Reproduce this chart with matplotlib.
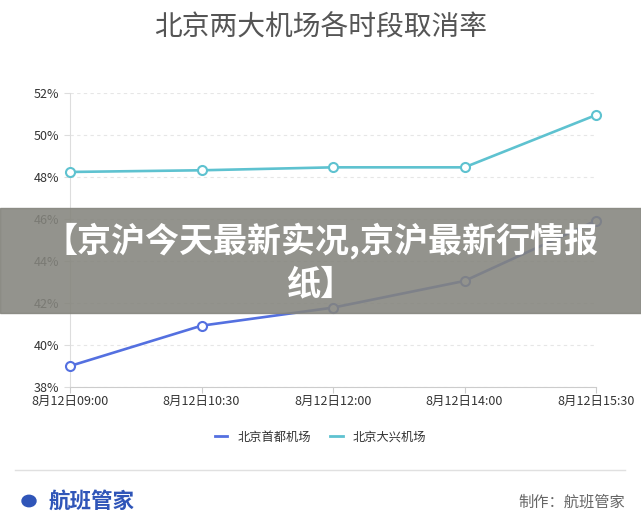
import matplotlib
matplotlib.use("Agg")
import matplotlib.pyplot as plt
from matplotlib.patches import Circle, Rectangle
from matplotlib.lines import Line2D

plt.rcParams["font.family"] = ["Noto Sans CJK SC", "DejaVu Sans"]

# data
times = ["8月12日09:00", "8月12日10:30", "8月12日12:00", "8月12日14:00", "8月12日15:30"]
shoudu = [39.0, 40.92, 41.78, 43.05, 45.92]
daxing = [48.24, 48.32, 48.46, 48.46, 50.95]
series_names = ["北京首都机场", "北京大兴机场"]
series_colors = ["#5470e0", "#5ec2d0"]
y_ticks = [38, 40, 42, 44, 46, 48, 50, 52]

W, H = 641, 523
fig = plt.figure(figsize=(W / 100, H / 100), dpi=100)
ax = fig.add_axes([70 / W, 1 - 387 / H, (596 - 70) / W, (387 - 93) / H])

x = list(range(len(times)))
for vals, name, col in zip([shoudu, daxing], series_names, series_colors):
    ax.plot(x, vals, color=col, lw=1.9, marker="o", ms=6.5, mfc="white",
            mec=col, mew=1.5, label=name, clip_on=False, zorder=3)

ax.set_xlim(0, len(times) - 1)
ax.set_ylim(38, 52)
ax.set_xticks(x)
ax.set_xticklabels(times, fontsize=9, color="#333333")
ax.set_yticks(y_ticks)
ax.set_yticklabels([f"{v}%" for v in y_ticks], fontsize=9, color="#333333")
ax.grid(axis="y", color="#e6e6e6", ls=(0, (3, 3)), lw=0.8)
ax.set_axisbelow(True)
for s in ["top", "right"]:
    ax.spines[s].set_visible(False)
ax.spines["left"].set_color("#dddddd")
ax.spines["bottom"].set_color("#cccccc")
ax.tick_params(axis="x", length=4, color="#cccccc", pad=2)
ax.tick_params(axis="y", length=4, color="#dddddd", pad=4)

handles = [Line2D([], [], color=c, lw=2) for c in series_colors]
fig.legend(handles, series_names, loc="center", bbox_to_anchor=(0.5, 1 - 437 / H),
           ncol=2, frameon=False, fontsize=8.8, handlelength=1.0,
           columnspacing=1.6, labelcolor="#333333")

fig.text(0.5, 1 - 27 / H, "北京两大机场各时段取消率", ha="center", va="center",
         fontsize=20, color="#555555")

# footer
fig.add_artist(Line2D([15 / W, 625 / W], [1 - 470 / H] * 2, color="#e0e0e0", lw=1))
fig.add_artist(Circle((29 / W, 1 - 501 / H), 7 / W, transform=fig.transFigure,
                      color="#2f55b8"))
fig.text(49 / W, 1 - 501 / H, "航班管家", ha="left", va="center", fontsize=15.5,
         color="#2f55b8", fontweight="bold")
fig.text(625 / W, 1 - 502 / H, "制作：航班管家", ha="right", va="center",
         fontsize=11, color="#666666")

# overlay banner
fig.add_artist(Rectangle((0, 1 - 313 / H), 1, 105 / H, transform=fig.transFigure,
                         color="#84847d", alpha=0.88, zorder=10))
fig.text(0.5, 1 - 242 / H, "【京沪今天最新实况,京沪最新行情报", ha="center", va="center",
         fontsize=24.5, color="white", fontweight="bold", zorder=11)
fig.text(0.5, 1 - 284 / H, "纸】", ha="center", va="center",
         fontsize=24.5, color="white", fontweight="bold", zorder=11)

fig.savefig("out.png", dpi=100)
